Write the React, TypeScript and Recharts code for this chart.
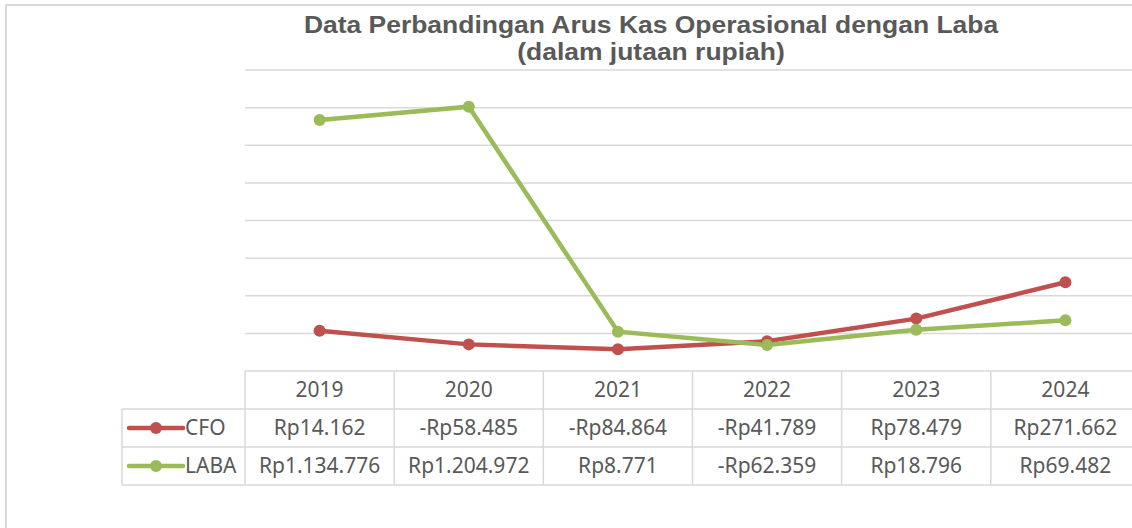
import { LineChart, Line, XAxis, YAxis, CartesianGrid } from 'recharts';

const years = ['2019', '2020', '2021', '2022', '2023', '2024'];
const cfoValues = [14162, -58485, -84864, -41789, 78479, 271662];
const labaValues = [1134776, 1204972, 8771, -62359, 18796, 69482];
const yTicks = [-200000, 0, 200000, 400000, 600000, 800000, 1000000, 1200000, 1400000];
const titleLines = ['Data Perbandingan Arus Kas Operasional dengan Laba', '(dalam jutaan rupiah)'];

const data = years.map((year, i) => ({ year, CFO: cfoValues[i], LABA: labaValues[i] }));

const series = [
  { key: 'CFO', color: '#c0504d', values: cfoValues },
  { key: 'LABA', color: '#9bbb59', values: labaValues },
];

const GRID = '#d9d9d9';
const TEXT = '#595959';
const COL_W = 149.2;
const ROW_H = 38;
const LEGEND_LEFT = 122;
const FONT = '"Noto Sans", sans-serif';
const FS = 21;

// Rp with dot thousand separators, minus before Rp
const rupiah = (v: number) => {
  const s = Math.abs(v).toString().replace(/\B(?=(\d{3})+(?!\d))/g, '.');
  return (v < 0 ? '-' : '') + 'Rp' + s;
};

const TableTick = (props: any) => {
  const { x, y, index } = props;
  const left = x - COL_W / 2;
  const right = x + COL_W / 2;
  const bottom = y + ROW_H * 3;
  return (
    <g>
      <line x1={left} y1={y} x2={left} y2={bottom} stroke={GRID} strokeWidth={1.5} />
      {index === years.length - 1 && (
        <line x1={right} y1={y} x2={right} y2={bottom} stroke={GRID} strokeWidth={1.5} />
      )}
      {[1, 2, 3].map((r) => (
        <line key={r} x1={left} y1={y + ROW_H * r} x2={right} y2={y + ROW_H * r} stroke={GRID} strokeWidth={1.5} />
      ))}
      <text x={x} y={y + ROW_H / 2 + 7} textAnchor="middle" fill={TEXT} fontSize={FS} fontFamily={FONT}>
        {years[index]}
      </text>
      {series.map((s, r) => (
        <text key={s.key} x={x} y={y + ROW_H * (r + 1) + ROW_H / 2 + 7} textAnchor="middle" fill={TEXT} fontSize={FS} fontFamily={FONT}>
          {rupiah(s.values[index])}
        </text>
      ))}
      {index === 0 && (
        <g>
          <line x1={LEGEND_LEFT} y1={y + ROW_H} x2={LEGEND_LEFT} y2={bottom} stroke={GRID} strokeWidth={1.5} />
          {[1, 2, 3].map((r) => (
            <line key={r} x1={LEGEND_LEFT} y1={y + ROW_H * r} x2={left} y2={y + ROW_H * r} stroke={GRID} strokeWidth={1.5} />
          ))}
          {series.map((s, r) => {
            const cy = y + ROW_H * (r + 1) + ROW_H / 2;
            return (
              <g key={s.key}>
                <line x1={LEGEND_LEFT + 7} y1={cy} x2={LEGEND_LEFT + 61} y2={cy} stroke={s.color} strokeWidth={4.5} strokeLinecap="round" />
                <circle cx={LEGEND_LEFT + 34} cy={cy} r={6} fill={s.color} />
                <text x={LEGEND_LEFT + 63} y={cy + 7} fill={TEXT} fontSize={FS} fontFamily={FONT}>
                  {s.key}
                </text>
              </g>
            );
          })}
        </g>
      )}
    </g>
  );
};

export default function App() {
  return (
    <div style={{ position: 'absolute', left: 0, top: 0, width: 1132, height: 528, overflow: 'hidden', background: '#fff' }}>
      <div style={{ position: 'absolute', left: 5, top: 4, width: 1200, height: 600, border: `2px solid ${GRID}`, boxSizing: 'border-box' }} />
      {titleLines.map((t, i) => (
        <div
          key={i}
          style={{
            position: 'absolute',
            left: 251,
            width: 800,
            top: 12 + i * 27,
            height: 27,
            textAlign: 'center',
            fontFamily: '"Liberation Sans", Arial, sans-serif',
            fontWeight: 'bold',
            fontSize: 23,
            lineHeight: '27px',
            color: TEXT,
            transform: 'scaleX(1.15)',
            transformOrigin: 'center',
          }}
        >
          {t}
        </div>
      ))}
      <div style={{ position: 'absolute', left: 0, top: 0 }}>
        <LineChart width={1145} height={528} data={data} margin={{ top: 70, right: 5, bottom: 43, left: 245 }}>
          <CartesianGrid vertical={false} stroke={GRID} strokeWidth={1.5} />
          <XAxis
            dataKey="year"
            height={114}
            axisLine={false}
            tickLine={false}
            tickSize={0}
            tickMargin={0}
            interval={0}
            padding={{ left: 74.6, right: 74.6 }}
            tick={<TableTick />}
          />
          <YAxis hide domain={[-200000, 1400000]} ticks={yTicks} />
          {series.map((s) => (
            <Line
              key={s.key}
              type="linear"
              dataKey={s.key}
              stroke={s.color}
              strokeWidth={4.5}
              dot={{ r: 6, fill: s.color, stroke: s.color, strokeWidth: 0 }}
              activeDot={false}
              isAnimationActive={false}
            />
          ))}
        </LineChart>
      </div>
    </div>
  );
}
